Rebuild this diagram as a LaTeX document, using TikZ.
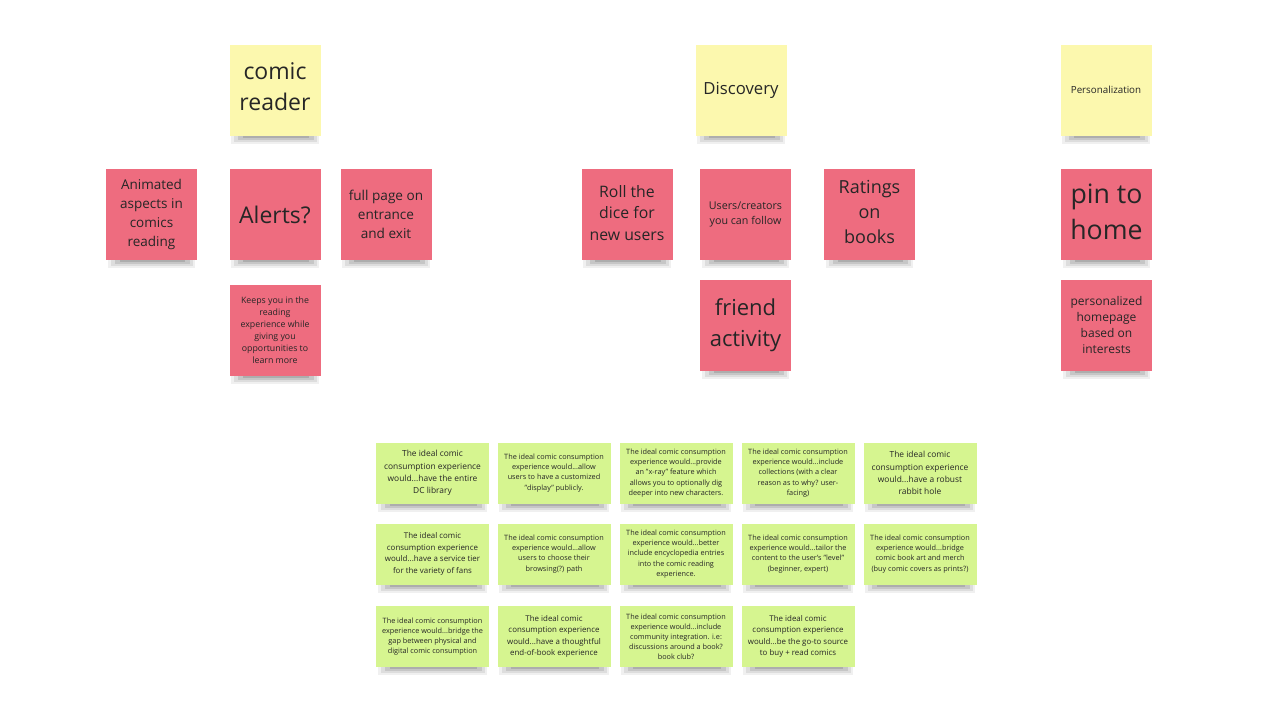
\documentclass[tikz,border=0pt]{standalone}
\usepackage{fontspec}
\setmainfont{Open Sans}
\usetikzlibrary{backgrounds}
\definecolor{notegiallo}{HTML}{FCF8AE}
\definecolor{noterosa}{HTML}{EE6C7F}
\definecolor{noteverde}{HTML}{D6F590}
\newcommand{\fs}[2]{\fontsize{#1}{#2}\selectfont}
\tikzset{
  note/.style={minimum width=91pt, minimum height=91pt, inner sep=0pt, align=center, text=black!85},
  gialla/.style={note, fill=notegiallo},
  rosa/.style={note, fill=noterosa},
  verde/.style={note, fill=noteverde, minimum width=113pt, minimum height=61pt},
  grande/.style={font=\fs{8.4}{12.3}},
  piccola/.style={font=\fs{7.3}{10.1}},
  su/.style={text depth=#1},
  ombra/.style={black, opacity=#1}
}
\begin{document}
\begin{tikzpicture}[x=1pt,y=-1pt]
  \useasboundingbox (0,0) rectangle (1280,720);
  % titoli
  \node[gialla, font=\fs{23}{31}, su=6pt] (reader) at (275,90) {comic\\reader};
  \node[gialla, font=\fs{16.7}{20}] (discovery) at (741,90) {Discovery};
  \node[gialla, font=\fs{9.8}{12}] (personal) at (1106,90) {Personalization};
  % idee, prima riga
  \node[rosa, font=\fs{13.5}{19}] (animated) at (151.5,214.5) {Animated\\aspects in\\comics\\reading};
  \node[rosa, font=\fs{23}{31}] (alerts) at (275,214.5) {Alerts?};
  \node[rosa, font=\fs{13.6}{19}] (fullpage) at (386,214.5) {full page on\\entrance\\and exit};
  \node[rosa, font=\fs{15.8}{21.5}, su=4pt] (dice) at (627,214.5) {Roll the\\dice for\\new users};
  \node[rosa, font=\fs{10.7}{15}] (users) at (745.5,214.5) {Users/creators\\you can follow};
  \node[rosa, font=\fs{18}{25}, su=6pt] (ratings) at (869.5,214.5) {Ratings\\on\\books};
  \node[rosa, font=\fs{26.7}{36}, su=6pt] (pin) at (1106.5,214.5) {pin to\\home};
  % idee, seconda riga
  \node[rosa, font=\fs{8.8}{12}] (keeps) at (275,330) {Keeps you in the\\reading\\experience while\\giving you\\opportunities to\\learn more};
  \node[rosa, font=\fs{22}{31}] (friend) at (745.5,325) {friend\\activity};
  \node[rosa, font=\fs{12}{16.3}] (homepage) at (1106.5,325) {personalized\\homepage\\based on\\interests};
  % esperienza ideale
  \node[verde, grande] (g11) at (432.5,473) {The ideal comic\\consumption experience\\would...have the entire\\DC library};
  \node[verde, piccola] (g12) at (554,473) {The ideal comic consumption\\experience would...allow\\users to have a customized\\"display" publicly.};
  \node[verde, piccola] (g13) at (676,473) {The ideal comic consumption\\experience would...provide\\an "x-ray" feature which\\allows you to optionally dig\\deeper into new characters.};
  \node[verde, piccola] (g14) at (798,473) {The ideal comic consumption\\experience would...include\\collections (with a clear\\reason as to why? user-\\facing)};
  \node[verde, grande] (g15) at (920,473) {The ideal comic\\consumption experience\\would...have a robust\\rabbit hole};
  \node[verde, font=\fs{7.9}{11.5}] (g21) at (432.5,554) {The ideal comic\\consumption experience\\would...have a service tier\\for the variety of fans};
  \node[verde, piccola] (g22) at (554,554) {The ideal comic consumption\\experience would...allow\\users to choose their\\browsing(?) path};
  \node[verde, piccola] (g23) at (676,554) {The ideal comic consumption\\experience would...better\\include encyclopedia entries\\into the comic reading\\experience.};
  \node[verde, piccola] (g24) at (798,554) {The ideal comic consumption\\experience would...tailor the\\content to the user's "level"\\(beginner, expert)};
  \node[verde, piccola] (g25) at (920,554) {The ideal comic consumption\\experience would...bridge\\comic book art and merch\\(buy comic covers as prints?)};
  \node[verde, piccola] (g31) at (432.5,636.5) {The ideal comic consumption\\experience would...bridge the\\gap between physical and\\digital comic consumption};
  \node[verde, font=\fs{7.9}{11.5}] (g32) at (554,636.5) {The ideal comic\\consumption experience\\would...have a thoughtful\\end-of-book experience};
  \node[verde, piccola] (g33) at (676,636.5) {The ideal comic consumption\\experience would...include\\community integration. i.e:\\discussions around a book?\\book club?};
  \node[verde, font=\fs{7.9}{11.5}] (g34) at (798,636.5) {The ideal comic\\consumption experience\\would...be the go-to source\\to buy + read comics};
  % sfondo e ombre sotto i foglietti
  \begin{pgfonlayer}{background}
    \fill[white] (0,0) rectangle (1280,720);
    \foreach \n in {reader,discovery,personal,animated,alerts,fullpage,dice,users,ratings,pin,
                    keeps,friend,homepage,g11,g12,g13,g14,g15,g21,g22,g23,g24,g25,g31,g32,g33,g34} {
      \fill[ombra=0.06] ([xshift=2pt]\n.south west) rectangle ([xshift=-2pt,yshift=-8pt]\n.south east);
      \fill[ombra=0.08] ([xshift=5pt]\n.south west) rectangle ([xshift=-4pt,yshift=-6pt]\n.south east);
      \fill[ombra=0.10] ([xshift=9pt]\n.south west) rectangle ([xshift=-7pt,yshift=-4pt]\n.south east);
      \fill[ombra=0.12] ([xshift=14pt]\n.south west) rectangle ([xshift=-12pt,yshift=-2pt]\n.south east);
    }
  \end{pgfonlayer}
\end{tikzpicture}
\end{document}
